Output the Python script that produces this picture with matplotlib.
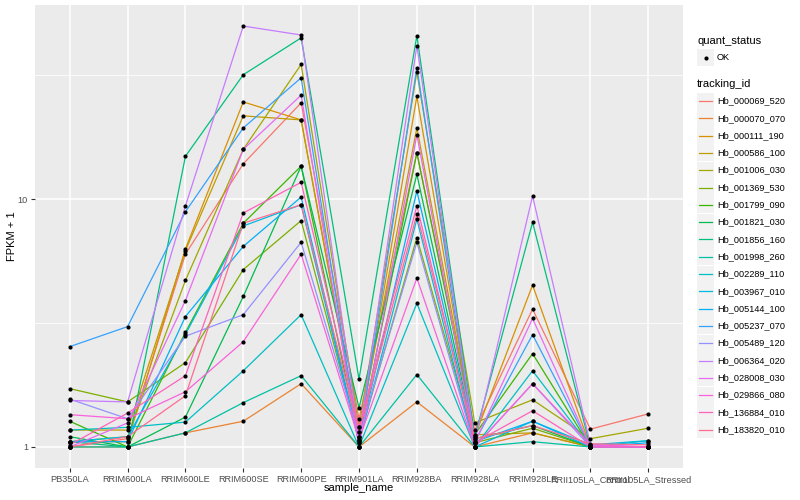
import numpy as np
import matplotlib
matplotlib.use("Agg")
import matplotlib.pyplot as plt
from matplotlib.ticker import FixedLocator, NullFormatter

plt.rcParams['font.family'] = ['Liberation Sans', 'DejaVu Sans']

samples = ["PB350LA", "RRIM600LA", "RRIM600LE", "RRIM600SE", "RRIM600PE",
           "RRIM901LA", "RRIM928BA", "RRIM928LA", "RRIM928LE",
           "RRII105LA_Control", "RRII105LA_Stressed"]

tracking_ids = ["Hb_000069_520", "Hb_000070_070", "Hb_000111_190", "Hb_000586_100",
                "Hb_001006_030", "Hb_001369_530", "Hb_001799_090", "Hb_001821_030",
                "Hb_001856_160", "Hb_001998_260", "Hb_002289_110", "Hb_003967_010",
                "Hb_005144_100", "Hb_005237_070", "Hb_005489_120", "Hb_006364_020",
                "Hb_028008_030", "Hb_029866_080", "Hb_136884_010", "Hb_183820_010"]

colors = ["#F8766D", "#EA8331", "#D89000", "#C09B00", "#A3A500", "#7CAE00",
          "#39B600", "#00BB4E", "#00BF7D", "#00C1A3", "#00BFC4", "#00BAE0",
          "#00B0F6", "#35A2FF", "#9590FF", "#C77CFF", "#E76BF3", "#FA62DB",
          "#FF62BC", "#FF6C91"]

# FPKM + 1, one row per tracking_id, one column per sample
fpkm1 = [
    [1.00, 1.08, 6.0, 13.9, 24.5, 1.30, 15.4, 1.17, 3.6, 1.18, 1.36],
    [1.00, 1.00, 1.14, 1.27, 1.80, 1.00, 1.52, 1.00, 1.14, 1.00, 1.00],
    [1.05, 1.05, 6.3, 24.7, 20.9, 1.10, 26.0, 1.10, 4.5, 1.00, 1.00],
    [1.17, 1.17, 6.2, 21.7, 20.9, 1.15, 19.4, 1.12, 1.14, 1.00, 1.00],
    [1.05, 1.10, 4.7, 15.9, 35.0, 1.20, 32.6, 1.25, 1.55, 1.08, 1.19],
    [1.72, 1.52, 2.19, 5.2, 8.2, 1.07, 7.0, 1.04, 1.19, 1.00, 1.00],
    [1.27, 1.00, 2.9, 8.0, 13.6, 1.07, 15.4, 1.12, 2.38, 1.00, 1.00],
    [1.10, 1.00, 1.32, 4.05, 13.6, 1.44, 12.6, 1.08, 1.22, 1.00, 1.00],
    [1.05, 1.00, 14.9, 31.8, 44.8, 1.88, 45.7, 1.10, 8.06, 1.00, 1.00],
    [1.00, 1.00, 1.14, 1.51, 1.94, 1.00, 1.96, 1.00, 1.05, 1.00, 1.00],
    [1.17, 1.20, 1.26, 2.03, 3.42, 1.00, 3.8, 1.00, 2.03, 1.00, 1.06],
    [1.05, 1.10, 2.85, 7.8, 9.5, 1.04, 8.3, 1.00, 1.27, 1.02, 1.06],
    [1.05, 1.05, 3.36, 6.45, 10.2, 1.05, 10.8, 1.05, 1.27, 1.00, 1.04],
    [2.54, 3.06, 8.9, 19.4, 30.9, 1.05, 34.0, 1.05, 2.84, 1.00, 1.00],
    [1.56, 1.30, 2.8, 3.42, 6.7, 1.10, 6.7, 1.00, 1.80, 1.00, 1.00],
    [1.54, 1.52, 9.4, 50.0, 46.0, 1.10, 41.7, 1.05, 10.3, 1.02, 1.00],
    [1.00, 1.25, 3.9, 15.9, 26.3, 1.00, 18.2, 1.04, 3.3, 1.00, 1.00],
    [1.35, 1.30, 1.67, 2.66, 6.0, 1.07, 4.8, 1.00, 1.80, 1.02, 1.00],
    [1.02, 1.37, 1.94, 8.8, 11.7, 1.20, 9.4, 1.04, 1.40, 1.00, 1.00],
    [1.00, 1.10, 1.61, 8.0, 9.5, 1.15, 8.7, 1.08, 1.22, 1.03, 1.02],
]

W, H = 800, 500
fig = plt.figure(figsize=(8, 5), dpi=100)
fig.patch.set_facecolor("white")

# panel in pixel coordinates: x 35..683, y 5..468
px0, px1, py0, py1 = 35, 683, 5, 468
ax = fig.add_axes([px0 / W, 1 - py1 / H, (px1 - px0) / W, (py1 - py0) / H])
ax.set_facecolor("#EBEBEB")

x = np.arange(1, len(samples) + 1)
for vals, col in zip(fpkm1, colors):
    ax.plot(x, vals, color=col, lw=0.9, zorder=3)
for vals in fpkm1:
    ax.plot(x, vals, 'o', color="black", markersize=3.0, zorder=4, markeredgewidth=0)

ax.set_yscale("log")
lo = np.log10(np.min(fpkm1))
hi = np.log10(np.max(fpkm1))
pad = 0.05 * (hi - lo)
ax.set_ylim(10 ** (lo - pad), 10 ** (hi + pad))
ax.set_xlim(0.4, len(samples) + 0.6)

ax.yaxis.set_major_locator(FixedLocator([1, 10]))
ax.yaxis.set_minor_locator(FixedLocator([10 ** 0.5, 10 ** 1.5]))
ax.yaxis.set_minor_formatter(NullFormatter())
ax.set_yticklabels(["1", "10"])
ax.set_xticks(x)
ax.set_xticklabels(samples)

ax.grid(True, which="major", color="white", lw=1.1, zorder=0)
ax.grid(True, which="minor", axis="y", color="white", lw=0.55, zorder=0)
ax.set_axisbelow(True)
for s in ax.spines.values():
    s.set_visible(False)
ax.tick_params(axis="both", which="major", length=3, width=0.8, color="#333333",
               labelsize=6.6, labelcolor="#4D4D4D", pad=2)
ax.tick_params(axis="y", which="minor", length=0)

ax.set_xlabel("sample_name", fontsize=8, color="black")
ax.set_ylabel("FPKM + 1", fontsize=8, color="black")
# place titles like the reference (pixel positions)
ax.xaxis.set_label_coords(0.5, -(488 - py1) / (py1 - py0), transform=ax.transAxes)
ax.xaxis.label.set_va("center")
ax.yaxis.set_label_coords(-(px0 - 12) / (px1 - px0), 0.5, transform=ax.transAxes)
ax.yaxis.label.set_va("center")

# legends, drawn in a pixel-coordinate overlay
lg = fig.add_axes([0, 0, 1, 1], facecolor="none")
lg.set_xlim(0, W)
lg.set_ylim(H, 0)
lg.axis("off")

lg.text(697, 41, "quant_status", fontsize=8, va="center", ha="left")
lg.add_patch(plt.Rectangle((697, 49), 17, 17, color="#F2F2F2", lw=0))
lg.plot([705.5], [57.5], 'o', color="black", markersize=3.0, markeredgewidth=0)
lg.text(717, 57.5, "OK", fontsize=6.6, va="center", ha="left")

lg.text(697, 84, "tracking_id", fontsize=8, va="center", ha="left")
step = 17.3
for i, (tid, col) in enumerate(zip(tracking_ids, colors)):
    cy = 101 + i * step
    lg.add_patch(plt.Rectangle((697, cy - 8.5), 17, 17, color="#F2F2F2", lw=0))
    lg.plot([699, 712], [cy, cy], color=col, lw=0.9)
    lg.text(717, cy, tid, fontsize=6.6, va="center", ha="left")

fig.savefig("out.png", dpi=100)
